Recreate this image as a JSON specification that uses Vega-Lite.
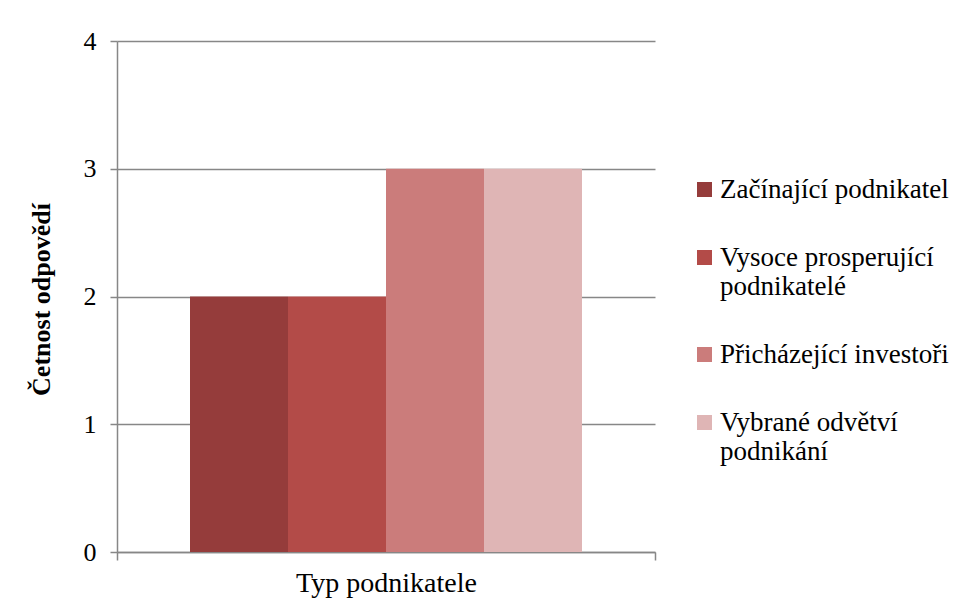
{
  "$schema": "https://vega.github.io/schema/vega-lite/v6.json",
  "width": 538,
  "height": 511,
  "padding": {"left": 117, "top": 41, "right": 303, "bottom": 58},
  "autosize": {"type": "none"},
  "background": "white",
  "data": {
    "values": [
      {"kat": "Typ podnikatele", "serie": "Začínající podnikatel", "n": 2},
      {"kat": "Typ podnikatele", "serie": "Vysoce prosperující podnikatelé", "n": 2},
      {"kat": "Typ podnikatele", "serie": "Přicházející investoři", "n": 3},
      {"kat": "Typ podnikatele", "serie": "Vybrané odvětví podnikání", "n": 3}
    ]
  },
  "mark": {"type": "bar"},
  "encoding": {
    "x": {
      "field": "kat",
      "type": "nominal",
      "scale": {"paddingInner": 0, "paddingOuter": 0},
      "axis": {
        "title": null,
        "labelAngle": 0,
        "labelFont": "Liberation Serif",
        "labelFontSize": 28,
        "labelColor": "black",
        "labelLimit": 500,
        "labelPadding": 9,
        "domainColor": "#878787",
        "domainWidth": 1.5,
        "tickColor": "#878787",
        "tickWidth": 1.5,
        "tickSize": 8,
        "tickBand": "extent"
      }
    },
    "xOffset": {
      "field": "serie",
      "type": "nominal",
      "sort": ["Začínající podnikatel", "Vysoce prosperující podnikatelé", "Přicházející investoři", "Vybrané odvětví podnikání"],
      "scale": {"paddingInner": 0, "paddingOuter": 0.745}
    },
    "y": {
      "field": "n",
      "type": "quantitative",
      "scale": {"domain": [0, 4], "nice": false},
      "axis": {
        "values": [0, 1, 2, 3, 4],
        "title": "Četnost odpovědí",
        "titleFont": "Liberation Serif",
        "titleFontSize": 26,
        "titleFontWeight": "bold",
        "titleColor": "black",
        "titleAngle": -90,
        "titleX": -76,
        "titleY": 258,
        "titleBaseline": "middle",
        "titleAlign": "center",
        "labelFont": "Liberation Serif",
        "labelFontSize": 26,
        "labelColor": "black",
        "labelPadding": 14,
        "tickColor": "#878787",
        "tickWidth": 1.5,
        "tickSize": 7,
        "domainColor": "#878787",
        "domainWidth": 1.5,
        "gridColor": "#878787",
        "gridWidth": 1.5
      }
    },
    "color": {
      "field": "serie",
      "type": "nominal",
      "sort": ["Začínající podnikatel", "Vysoce prosperující podnikatelé", "Přicházející investoři", "Vybrané odvětví podnikání"],
      "scale": {"range": ["#953C3B", "#B34B48", "#CB7C7B", "#DFB5B5"]},
      "legend": {
        "title": null,
        "orient": "none",
        "legendX": 574,
        "legendY": 135,
        "symbolType": "square",
        "symbolSize": 225,
        "symbolStrokeWidth": 0,
        "symbolOpacity": 1,
        "labelFont": "Liberation Serif",
        "labelFontSize": 27,
        "labelColor": "black",
        "labelLimit": 400,
        "labelOffset": 2,
        "rowPadding": 40,
        "labelExpr": "datum.label == 'Vysoce prosperující podnikatelé' ? ['Vysoce prosperující', 'podnikatelé'] : datum.label == 'Vybrané odvětví podnikání' ? ['Vybrané odvětví', 'podnikání'] : datum.label"
      }
    }
  },
  "config": {
    "view": {"stroke": null}
  }
}
